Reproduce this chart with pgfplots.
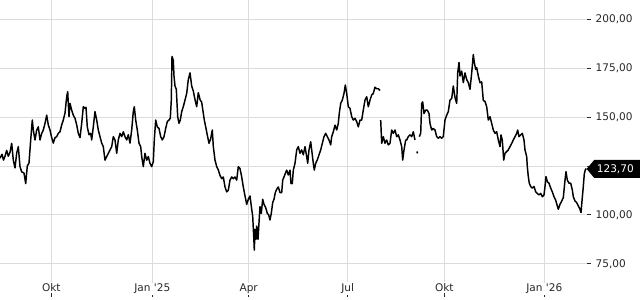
\documentclass[border=0pt]{standalone}
\usepackage{fontspec}
\setmainfont{DejaVu Sans}
\newfontfamily\dv{DejaVu Sans}
\usepackage{pgfplots}
\pgfplotsset{compat=1.18}
\usepackage{pgfplotstable}
\usetikzlibrary{shapes.symbols}
\definecolor{gridgray}{RGB}{220,220,220}
\definecolor{ticktext}{RGB}{40,40,40}

\pgfplotstableread{
x y
0 129
2 131
3.5 128
5 130
6.7 133
8.3 130
10 132
11.7 136.6
13.3 128
15 124
16.7 131.6
18.3 134.9
20 124.7
21.7 122
24 121.4
25.7 116
27.3 125
29 126.5
30.7 138.3
32.3 148.5
33.3 143.4
35 138.3
36.7 143.4
38.3 145
40 138.3
41.7 141.7
43.3 143.4
45 146.8
46.7 151
48.3 146
50 143.4
51.7 139.5
53.3 136.7
55 139.5
56.7 140
58.3 141.7
60 142.5
61.7 146
63.3 148.5
65 152
66.7 160.4
67.7 163
69 150.2
70 157
71.7 153.5
73.3 151
75 149.4
76.7 146
78.3 141.7
80 139.5
81.7 146.8
83.3 155.3
85 154.5
86 155
87.3 145
89 141
90.7 141.7
91.7 138.3
93.3 145
95 152.8
96.7 148.5
98.3 143.4
100 140
101.7 136.7
103.3 134.9
105 128
106.7 129.8
108.3 131.5
110 133.2
111.7 134.9
113.3 140
115 138.3
116.7 131.5
118.3 138.3
120 141.7
121.7 140
123.3 142.5
125 140
126.7 138.3
128.3 141
130 136.7
131.7 143.4
133.3 152.8
134.3 155.3
135.7 148.5
137.3 143.4
139 136.7
140.7 134.9
141.7 129.8
143.3 124.7
145 131.5
146.7 128
148.3 129.8
150 126.4
151.7 124.7
153.3 127.2
154.3 138.3
155.7 148.5
157.3 145
159 144.2
160.7 140
162.3 138.3
164 140
165.7 144.2
167.3 147.7
169 148.5
170.3 149.4
171.3 158.7
172 181
173.3 179
174 171
175 165.9
176.3 164.2
177.7 150.2
179 146.8
180.3 148.5
181.7 152.8
183.3 155.3
185 158.7
186.7 162.1
188.3 169.2
190 172.6
191.7 165.9
193.3 163.3
195 159
196.7 155.3
198.3 162.5
200 159
201.7 157.5
203.3 152
204.3 148.5
205.7 145
207.3 140.8
209 136.6
210.7 139
212.3 143.4
213.3 135
215 128
216.7 124.7
218.3 123
220 120.2
221.7 118.5
223.3 119.4
225 114.3
226.7 111.8
228.3 112.6
230 117.8
231.7 119.4
233.3 118.5
235 119.4
236.7 117.8
238.3 124.7
240 123.7
241.7 119.4
243.3 114.3
245 109.7
246.7 105.4
248.3 108
250 109.7
251.7 102.9
252.7 99.4
254 85.8
254.3 82
255 92.6
256 87.5
256.7 94.3
258 87.5
259 96
260 104.2
261.3 100.8
262.7 108
264 105.4
265.7 103.7
267.3 100.8
268.7 100
270 97.4
271.3 100.8
272.7 106.3
274 108
275.3 111.4
276.7 113.1
278.3 114.3
280 111.4
281.7 111.4
282.7 117.8
284 119.4
285.3 121.2
286.7 122.9
288.3 120.4
290 122.9
291 116
292.3 116
293.3 122.9
295 126.4
296.7 133.2
298.3 134.9
300 131.5
301.7 133.2
303.3 130.7
305 134.9
306.7 129.8
307.7 126.4
309 133.2
310.7 137.4
311.7 133.2
313.3 126.4
314.3 122.9
315.7 126.4
317.3 128.1
319 130.7
320.7 133.2
322.3 136.6
324 140
325.7 141.7
327.3 140
329 138.3
330.7 135.8
331.7 140
333.3 142.5
335 145.9
336.7 143.4
338.3 146.8
339.3 152
340.7 157
342.3 158.7
344 162.1
345.3 166.4
346.7 162.1
348.3 155.3
350 154.5
351.7 150.2
353.3 148.5
355 149.4
356.7 147.7
358.3 145
360 148.5
361.7 148.5
363.3 153.6
365 158.7
366.7 160.4
368.3 155.3
370 158.7
371.7 161.3
373.3 162.1
375 165.3
376.7 164.5
378.3 164.5
380 163.6
380.3 nan
380.7 148.5
381.7 136.6
383.3 140
385 136.6
386.7 138.3
388.3 135.8
390 136.6
391.7 143.4
393.3 141.7
395 143.4
396.7 140
398.3 140.9
400 138.3
401.7 134.9
402.7 128
404 133.2
405.7 138.3
406.7 138.3
408.3 140
410 140.9
411.7 140
413.3 142.5
415 138.3
415.8 nan
416.7 132.4
417.7 131.5
418.5 nan
419.3 140
420.7 141.7
421.7 157
422.7 157.8
424 151.8
425.7 153.6
427.3 153.6
429 151.8
430 146.8
431.7 143.4
433.3 144.2
435 143.4
436.7 140
438.3 139.2
440 140
441.7 139.2
443.3 140
445 148.5
446.7 151
448.3 152.8
450 158.7
451.7 159.5
453.3 165.9
455 160
456.7 157
457.7 172.6
459 177.9
460 171
461.7 173.5
463.3 167.6
465 172.6
466.7 169.2
468.3 167.6
470 164.2
471.7 172.6
473.3 182
474.3 177.9
475.7 174.4
476.7 175.3
478.3 171
480 167.6
481.7 168
483.3 158.5
485 158
486.7 155.3
488.3 148.5
490 150.2
491.7 146.8
493.3 143.4
495 141.7
496.7 142.5
498.3 138.3
500 134.9
501 140.9
502.3 138.3
503.7 128
505 131.5
506.7 132.4
508.3 133.2
510 134.9
511.7 136.6
513.3 138.3
515 140
516.7 141.7
517.7 143.4
519 140
520.7 140.9
522.3 141.7
524 138.3
525 133.2
526.7 129.8
527.3 124.7
528.3 119.6
529.3 116.2
530.7 114.5
532.3 113.7
534 114.5
535.7 111.8
537.3 111
539 110.2
540.7 111
542.3 109.3
544 110.2
545 114.5
546 119.6
547.3 117
549 116.2
550.7 113.7
552.3 111.8
554 109.3
555.7 107.5
557.3 104.6
558.3 102.9
560 105.4
561.7 107.1
563.3 108.8
565 117.8
566 122.1
567.3 117.8
569 116.2
570.7 116.2
572.3 112.8
573.3 109.3
575 107.1
576.7 106.3
578.3 104.6
580 102.9
581 101.2
582 107.1
583.3 114.5
584.3 121
585.3 123
586.3 123.7
}\prices

\begin{document}
\begin{tikzpicture}[x=1pt,y=1pt]
\begin{axis}[
  at={(0pt,5.25pt)}, anchor=south west,
  scale only axis, width=440.25pt, height=219.75pt,
  xmin=0, xmax=587, ymin=60.08, ymax=209.86,
  axis line style={draw=none},
  tick align=outside,
  xtick pos=bottom, ytick pos=right,
  yticklabel pos=right,
  xtick={51.3,152.3,248.7,347.7,444.3,544.3},
  xticklabels={Okt,Jan '25,Apr,Jul,Okt,Jan '26},
  ytick={75,100,125,150,175,200},
  yticklabels={75{,}00,100{,}00,,150{,}00,175{,}00,200{,}00},
  grid=major,
  major grid style={gridgray, line width=0.75pt},
  major tick length=3pt,
  tick style={ticktext, line width=0.75pt},
  every tick label/.append style={font=\dv\fontsize{7.9}{9.5}\selectfont, text=ticktext},
  xticklabel style={anchor=base, yshift=4pt, fill=white, inner sep=1pt},
  yticklabel style={anchor=west, xshift=0pt},
  unbounded coords=jump,
  clip=false,
]
\addplot[black, line width=1.1pt, line join=round] table[x=x, y=y] {\prices};
\node[signal, signal to=west, signal pointer angle=100, fill=black, text=white,
      font=\dv\fontsize{7.9}{9.5}\selectfont, inner xsep=2pt, inner ysep=0pt,
      minimum height=13.5pt, anchor=west] at (axis cs:586.3,123.5) {123,70\kern4pt};
\end{axis}
\pgfresetboundingbox
\path[use as bounding box] (0,0) rectangle (480pt,225pt);
\end{tikzpicture}
\end{document}
